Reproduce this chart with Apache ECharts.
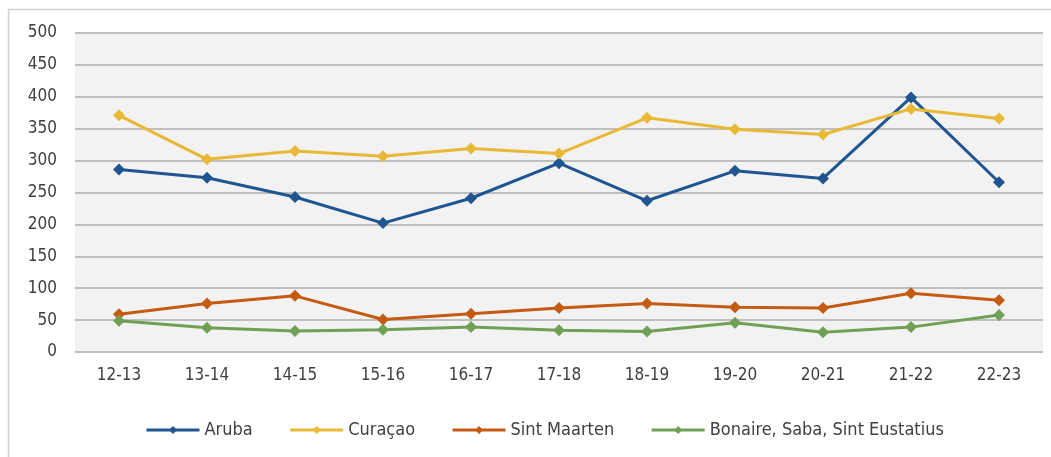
<!DOCTYPE html>
<html>
<head>
<meta charset="utf-8">
<script src="https://cdn.jsdelivr.net/npm/echarts@6/dist/echarts.min.js"></script>
<style>
    html, body { margin: 0; padding: 0; background: #fff; }
    #chart { width: 1051px; height: 457px; }
</style>
</head>
<body>
<div id="chart"></div>
<script>
var categories = ["12-13", "13-14", "14-15", "15-16", "16-17", "17-18", "18-19", "19-20", "20-21", "21-22", "22-23"];
var aruba = [286, 273, 243, 202, 241, 296, 237, 284, 272, 399, 266];
var curacao = [371, 302, 315, 307, 319, 311, 367, 349, 341, 381, 366];
var sintMaarten = [59, 76, 88, 51, 60, 69, 76, 70, 69, 92, 81];
var bes = [49, 38, 33, 35, 39, 34, 32, 46, 31, 39, 58];
var yTicks = { min: 0, max: 500, interval: 50 };

var font = "'DejaVu Sans Condensed', 'Open Sans', sans-serif";

function makeSeries(name, data, color) {
    return {
        name: name,
        type: "line",
        data: data,
        symbol: "diamond",
        symbolSize: 12,
        lineStyle: { width: 3, color: color },
        itemStyle: { color: color },
        emphasis: { disabled: true }
    };
}

var chart = echarts.init(document.getElementById("chart"));
chart.setOption({
    animation: false,
    textStyle: { fontFamily: font },
    graphic: [
        { type: "line", shape: { x1: 8, y1: 9.5, x2: 1051, y2: 9.5 }, style: { stroke: "#d0d0d0", lineWidth: 1.5 } },
        { type: "line", shape: { x1: 8.5, y1: 9, x2: 8.5, y2: 457 }, style: { stroke: "#d0d0d0", lineWidth: 1.5 } }
    ],
    grid: {
        left: 75, right: 8, top: 33, height: 319,
        show: true, backgroundColor: "#f2f2f2", borderWidth: 0
    },
    legend: {
        top: 416,
        left: 140,
        itemWidth: 53,
        itemHeight: 10,
        itemGap: 36,
        lineStyle: { width: 3 },
        textStyle: { fontSize: 18, color: "#404040", fontFamily: font },
        data: ["Aruba", "Curaçao", "Sint Maarten", "Bonaire, Saba, Sint Eustatius"]
    },
    xAxis: {
        type: "category",
        data: categories,
        boundaryGap: true,
        axisLine: { show: false },
        axisTick: { show: false },
        axisLabel: { fontSize: 17, color: "#404040", margin: 15 }
    },
    yAxis: {
        type: "value",
        min: yTicks.min, max: yTicks.max, interval: yTicks.interval,
        axisLine: { show: false },
        axisTick: { show: false },
        axisLabel: { fontSize: 17, color: "#404040", margin: 18 },
        splitLine: { lineStyle: { color: "#bfbfbf", width: 2 } }
    },
    series: [
        makeSeries("Aruba", aruba, "#1f5591"),
        makeSeries("Curaçao", curacao, "#e9b936"),
        makeSeries("Sint Maarten", sintMaarten, "#c55a11"),
        makeSeries("Bonaire, Saba, Sint Eustatius", bes, "#70a055")
    ]
});
</script>
</body>
</html>
